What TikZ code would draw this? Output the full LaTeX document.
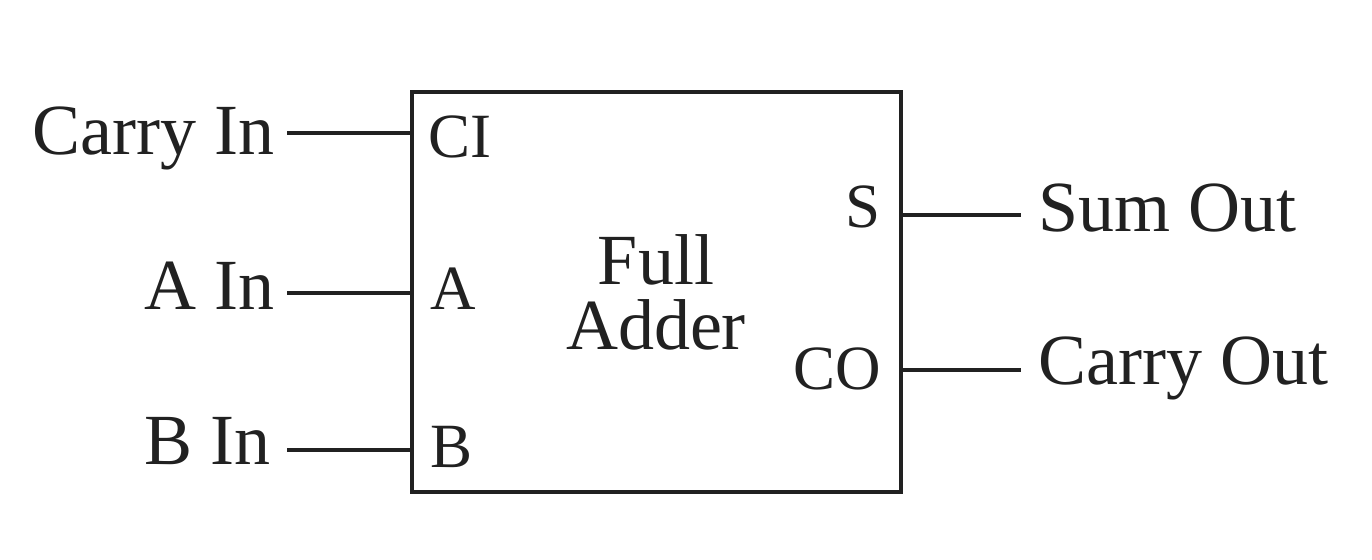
\documentclass[tikz,border=0pt]{standalone}
\usepackage{fontspec}
\setmainfont{Liberation Serif}
\begin{document}
\begin{tikzpicture}[x=0.5pt,y=-0.5pt,
  wire/.style={draw=black!87, line width=2pt},
  lbl/.style={inner sep=0pt, text=black!87, font=\fontsize{36}{40}\selectfont},
  pin/.style={inner sep=0pt, text=black!87, font=\fontsize{31.5}{36}\selectfont},
  block/.style={draw=black!87, line width=2pt, minimum width=244.5pt, minimum height=200pt, inner sep=0pt}]
\useasboundingbox (0,0) rectangle (1372,560);
% the adder block
\node[block] (fa) at (656.5,292) {};
\node[lbl, anchor=base] (full) at (656,285) {Full};
\node[lbl, anchor=base] (adder) at (656,350) {Adder};
% pin names inside the block
\node[pin, anchor=base west] (pci) at (428,158) {CI};
\node[pin, anchor=base west] (pa) at (430,310) {A};
\node[pin, anchor=base west] (pb) at (430,468) {B};
\node[pin, anchor=base east] (ps) at (881,228) {S};
\node[pin, anchor=base east] (pco) at (881,390) {CO};
% signal names
\node[lbl, anchor=base east] (cin) at (275,155) {Carry In};
\node[lbl, anchor=base east] (ain) at (275,310) {A In};
\node[lbl, anchor=base east] (bin) at (271,465) {B In};
\node[lbl, anchor=base west] (sout) at (1038,232) {Sum Out};
\node[lbl, anchor=base west] (cout) at (1038,385) {Carry Out};
% wire ends
\coordinate (wci) at (287,133);
\coordinate (wa) at (287,293);
\coordinate (wb) at (287,450);
\coordinate (ws) at (1021,215);
\coordinate (wco) at (1021,370);
% wires
\draw[wire] (wci) -- (wci -| fa.west);
\draw[wire] (wa) -- (wa -| fa.west);
\draw[wire] (wb) -- (wb -| fa.west);
\draw[wire] (fa.east |- ws) -- (ws);
\draw[wire] (fa.east |- wco) -- (wco);
\end{tikzpicture}
\end{document}
